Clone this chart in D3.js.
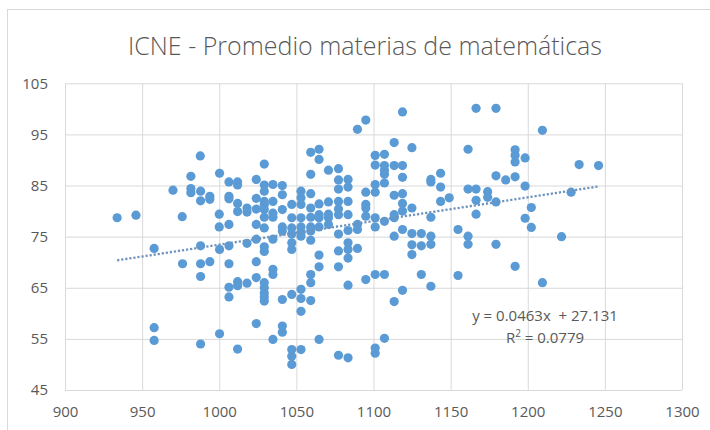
<!DOCTYPE html>
<html>
<head>
<meta charset="utf-8">
<script src="https://cdn.jsdelivr.net/npm/d3@7"></script>
<style>
  body { margin: 0; background: #fff; }
  text { font-family: "Open Sans", "Liberation Sans", sans-serif; }
</style>
</head>
<body>
<svg id="chart" width="710" height="430"></svg>
<script>
// ICNE score (x) against average grade in mathematics subjects (y), one entry per student
const icne = [
  933.8, 946, 976, 970, 981.6, 987.7, 981.6, 981.6, 987.9, 987.9,
  993.9, 993.9, 1000.2, 1000, 1000, 1006.3, 1011.9, 1011.9, 1006.3, 1006.3,
  1011.9, 1011.9, 1006.3, 1018, 1018, 1024, 1024, 1024, 1024,
  957.8, 987.9, 1000.2, 1006.3, 1018, 1024, 976.2, 987.9, 993.9, 1006.3, 1024, 987.9,
  1024, 1006.3, 1011.9, 1011.9, 1018, 1006.3, 957.8, 957.8, 987.9, 1000.2, 1011.9, 1024,
  1029.2, 1029.2, 1029.2, 1029.2, 1029.2, 1029.2, 1029.2, 1029.2,
  1034.8, 1034.8, 1034.8, 1034.8, 1040.9, 1040.9, 1040.9, 1040.9,
  1047, 1047, 1047, 1053, 1053, 1053, 1053, 1053,
  1059.3, 1059.3, 1059.3, 1059.3, 1059.3, 1059.3, 1064.7, 1064.7, 1064.7, 1064.7, 1064.7, 1064.7,
  1070.8, 1070.8, 1070.8, 1070.8, 1070.8, 1077.3, 1077.3, 1077.3, 1077.3, 1077.3, 1077.3,
  1083.5, 1083.5, 1083.5, 1083.5, 1089.6, 1089.6, 1095, 1095, 1095, 1095, 1095,
  1101.1, 1101.1, 1101.1, 1101.1, 1101.1, 1101.1, 1107.1, 1107.1, 1107.1, 1107.1, 1107.1, 1107.1,
  1113.4, 1113.4, 1113.4, 1113.4, 1113.4, 1118.8, 1118.8, 1118.8, 1118.8, 1118.8, 1118.8,
  1124.9, 1124.9, 1137.2, 1137.2, 1137.2, 1143.5, 1143.5, 1143.5, 1149.1,
  1161.3, 1161.3, 1166.5, 1166.5, 1166.5, 1166.5,
  1040.9, 1047, 1053, 1053, 1059.3, 1077.3, 1083.5, 1089.6, 1113.4,
  1118.8, 1124.9, 1131, 1137.2, 1154.8, 1161.3, 1161.3, 1034.8,
  1029.2, 1029.2, 1047, 1047, 1059.3, 1064.7, 1077.3, 1083.5, 1083.5, 1089.6,
  1083.5, 1124.9, 1131, 1137.2, 1124.9, 1034.8,
  1034.8, 1064.7, 1059.3, 1077.3, 1101.1, 1107.1, 1131, 1154.8,
  1029.2, 1029.2, 1029.2, 1029.2, 1029.2, 1047, 1053, 1053, 1040.9,
  1059.3, 1059.3, 1053, 1083.5, 1095, 1118.8, 1137.2, 1113.4,
  1040.9, 1040.9, 1034.8, 1064.7, 1107.1, 1047, 1047,
  1047, 1053, 1077.3, 1083.5, 1101.1, 1101.1,
  1179.4, 1209.5, 1191.8, 1191.8, 1191.8, 1198.3, 1233.3, 1245.9, 1179.4, 1185.7, 1191.8, 1174,
  1198.3, 1228.1, 1174, 1179.4, 1202.3, 1198.3, 1202.3, 1221.9, 1179.4, 1191.8, 1209.5
];
const promedio = [
  78.7, 79.2, 78.9, 84.1, 86.8, 90.8, 84.4, 83.6, 83.9, 82.0,
  82.9, 82.3, 87.4, 79.4, 76.9, 85.7, 85.7, 85.1, 82.9, 82.4,
  81.5, 79.9, 77.4, 80.6, 79.8, 86.2, 82.5, 80.4, 77.4,
  72.7, 73.2, 72.5, 73.2, 73.7, 74.5, 69.7, 69.7, 70.1, 69.7, 70.1, 67.2,
  67.0, 65.1, 66.2, 65.4, 65.9, 63.2, 57.2, 54.7, 54.0, 56.0, 53.0, 58.0,
  89.2, 85.1, 83.9, 81.9, 81.3, 80.3, 78.8, 76.7,
  85.2, 81.9, 79.6, 78.8, 85.0, 83.2, 80.3, 76.9,
  81.3, 78.7, 76.7, 83.9, 82.6, 81.3, 78.7, 76.9,
  91.5, 87.2, 83.4, 80.6, 78.8, 76.9, 92.1, 90.1, 81.4, 79.3, 78.7, 76.9,
  88.0, 81.8, 79.4, 78.7, 77.4, 88.3, 86.1, 84.3, 81.9, 80.4, 79.3,
  86.2, 84.7, 81.9, 79.3, 96.0, 77.4, 97.8, 83.7, 81.3, 80.6, 79.0,
  90.9, 89.0, 85.2, 83.7, 78.7, 76.9, 91.1, 88.9, 88.0, 87.2, 85.5, 78.0,
  93.4, 88.9, 83.1, 79.3, 78.7, 99.4, 88.9, 86.6, 83.4, 81.5, 80.0,
  92.4, 80.6, 86.2, 85.7, 78.8, 87.4, 84.7, 81.9, 82.6,
  92.1, 84.3, 100.1, 84.3, 82.1, 79.4,
  76.1, 75.5, 75.8, 75.1, 76.1, 75.5, 76.2, 76.4, 75.1,
  76.4, 75.6, 75.6, 75.1, 76.4, 75.1, 73.5, 74.5,
  73.0, 72.1, 73.8, 72.5, 74.3, 71.4, 72.2, 73.8, 72.5, 72.7,
  70.8, 73.4, 73.2, 73.5, 71.5, 68.6,
  67.6, 69.1, 67.6, 69.1, 67.6, 67.6, 67.6, 67.4,
  66.0, 65.0, 64.0, 63.2, 62.4, 63.7, 64.7, 62.9, 62.7,
  62.5, 66.0, 60.4, 65.5, 66.6, 64.5, 65.3, 62.3,
  57.5, 56.3, 54.9, 54.9, 55.1, 52.9, 51.6,
  50.0, 52.9, 51.8, 51.3, 53.2, 52.2,
  100.1, 95.8, 92.0, 90.9, 89.6, 90.4, 89.1, 88.9, 86.9, 86.1, 86.7, 83.8,
  84.9, 83.7, 82.7, 81.8, 80.7, 78.6, 76.8, 75.0, 73.5, 69.2, 66.0
];

const xTicks = [900, 950, 1000, 1050, 1100, 1150, 1200, 1250, 1300];
const yTicks = [45, 55, 65, 75, 85, 95, 105];

// Linear trend fitted in the spreadsheet
const trendSlope = 0.0463;
const trendIntercept = 27.131;
const trendR2 = 0.0779;

const titleText = "ICNE - Promedio materias de matemáticas";

const W = 710, H = 430;
const plot = { left: 65, right: 682, top: 83.3, bottom: 390 };
const blue = "#5b9bd5";
const grid = "#d9d9d9";
const textGray = "#595959";

const svg = d3.select("#chart");

// Chart frame
svg.append("rect")
  .attr("x", 7.5).attr("y", 9.5)
  .attr("width", W).attr("height", H)
  .attr("fill", "#fff")
  .attr("stroke", "#d9d9d9");

const x = d3.scaleLinear().domain([900, 1300]).range([plot.left, plot.right]);
const y = d3.scaleLinear().domain([45, 105]).range([plot.bottom, plot.top]);

// Horizontal gridlines + y labels
const yAxis = svg.append("g")
  .attr("transform", `translate(${plot.left},0)`)
  .call(d3.axisLeft(y).tickValues(yTicks).tickFormat(d3.format("d"))
    .tickSize(-(plot.right - plot.left)).tickPadding(17));
yAxis.select(".domain").remove();
yAxis.selectAll(".tick line").attr("stroke", grid).attr("stroke-width", 1);
yAxis.selectAll(".tick text").attr("fill", textGray).style("font-size", "15px");

// Vertical gridlines + x labels
const xAxis = svg.append("g")
  .attr("transform", `translate(0,${plot.bottom})`)
  .call(d3.axisBottom(x).tickValues(xTicks).tickFormat(d3.format("d"))
    .tickSize(-(plot.bottom - plot.top)).tickPadding(16));
xAxis.select(".domain").remove();
xAxis.selectAll(".tick line").attr("stroke", grid).attr("stroke-width", 1);
xAxis.selectAll(".tick text").attr("fill", textGray).style("font-size", "15px");

// Title
svg.append("text")
  .attr("x", 365).attr("y", 55)
  .attr("text-anchor", "middle")
  .attr("fill", textGray)
  .style("font-size", "25px")
  .style("font-weight", 300)
  .text(titleText);

// Points
const points = icne.map((v, i) => ({ x: v, y: promedio[i] }));
svg.append("g")
  .selectAll("circle")
  .data(points)
  .join("circle")
  .attr("cx", d => x(d.x))
  .attr("cy", d => y(d.y))
  .attr("r", 4.6)
  .attr("fill", blue);

// Dotted trend line across the data range
const [xMin, xMax] = d3.extent(icne);
const trendPts = [xMin, xMax].map(v => ({ x: v, y: trendSlope * v + trendIntercept }));
svg.append("path")
  .datum(trendPts)
  .attr("d", d3.line().x(d => x(d.x)).y(d => y(d.y)))
  .attr("fill", "none")
  .attr("stroke", "#6f93bd")
  .attr("stroke-width", 2.3)
  .attr("stroke-dasharray", "2.2 1.9");

// Equation label
const eq = svg.append("g").attr("fill", textGray).style("font-size", "15px");
eq.append("text")
  .attr("x", 545).attr("y", 321)
  .attr("text-anchor", "middle")
  .attr("xml:space", "preserve")
  .text(`y = ${trendSlope}x  + ${trendIntercept}`);
const r2 = eq.append("text")
  .attr("x", 545).attr("y", 343)
  .attr("text-anchor", "middle");
r2.append("tspan").text("R");
r2.append("tspan").attr("dy", -6).style("font-size", "10px").text("2");
r2.append("tspan").attr("dy", 6).text(` = ${trendR2}`);
</script>
</body>
</html>
